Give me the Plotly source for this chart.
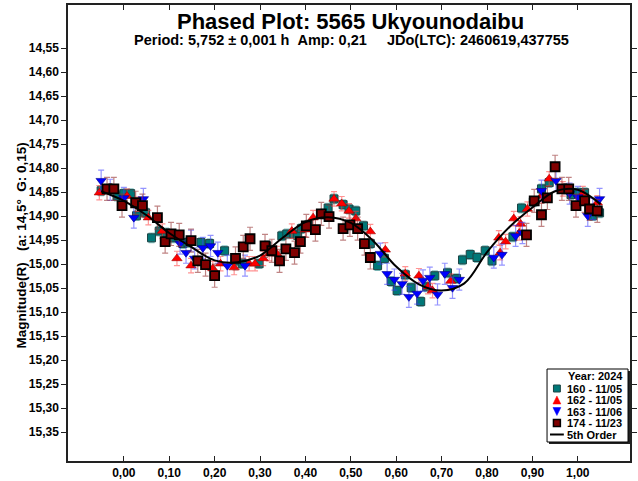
import plotly.graph_objects as go

# ---- data: phased magnitudes per session ----
phase_160 = [-0.050, -0.015, 0.000, 0.015, 0.028, 0.048, 0.061, 0.078, 0.093, 0.109,
             0.130, 0.141, 0.170, 0.189, 0.222, 0.246, 0.261, 0.298, 0.315, 0.348,
             0.359, 0.374, 0.383, 0.391, 0.407, 0.439, 0.450, 0.463, 0.483, 0.496,
             0.511, 0.528, 0.543, 0.559, 0.574, 0.589, 0.602, 0.620, 0.633, 0.654,
             0.667, 0.685, 0.713, 0.733, 0.746, 0.763, 0.778, 0.796, 0.811, 0.857,
             0.876, 0.902, 0.920, 0.937, 0.985, 1.000, 1.015, 1.033, 1.048]
mag_160 = [14.847, 14.858, 14.853, 14.853, 14.899, 14.893, 14.945, 14.931, 14.935, 14.945,
           14.957, 14.955, 14.955, 14.957, 14.972, 14.993, 14.999, 14.999, 14.962, 14.941,
           14.937, 14.937, 14.940, 14.926, 14.918, 14.895, 14.883, 14.864, 14.876, 14.885,
           14.889, 14.920, 14.957, 15.003, 14.988, 15.036, 15.055, 15.022, 15.049, 15.078,
           15.047, 15.024, 15.018, 15.030, 14.991, 14.980, 14.986, 14.972, 14.993, 14.943,
           14.883, 14.870, 14.843, 14.830, 14.855, 14.851, 14.851, 14.899, 14.893]

phase_162 = [-0.054, 0.007, 0.030, 0.054, 0.085, 0.117, 0.148, 0.196, 0.213, 0.243,
             0.276, 0.289, 0.307, 0.320, 0.337, 0.370, 0.400, 0.417, 0.463, 0.480,
             0.496, 0.511, 0.543, 0.576, 0.620, 0.650, 0.670, 0.680, 0.720, 0.826,
             0.829, 0.841, 0.859, 0.871, 0.874, 0.889, 0.920, 0.937, 0.967, 1.011,
             1.043]
mag_162 = [14.851, 14.858, 14.875, 14.903, 14.931, 14.988, 15.003, 15.009, 14.999, 15.007,
           14.999, 14.999, 14.988, 14.978, 14.978, 14.931, 14.928, 14.903, 14.864, 14.874,
           14.889, 14.905, 14.932, 14.970, 15.020, 15.024, 15.047, 15.055, 15.035, 14.945,
           14.976, 14.953, 14.905, 14.935, 14.916, 14.885, 14.858, 14.822, 14.843, 14.853,
           14.872]

phase_163 = [-0.050, -0.030, 0.000, 0.022, 0.043, 0.124, 0.137, 0.148, 0.156, 0.174,
             0.191, 0.207, 0.228, 0.267, 0.565, 0.580, 0.596, 0.613, 0.628, 0.646,
             0.659, 0.674, 0.691, 0.707, 0.724, 0.739, 0.815, 0.833, 0.863, 0.878,
             0.920, 0.952, 0.982, 1.000, 1.022, 1.033, 1.048]
mag_163 = [14.826, 14.845, 14.862, 14.903, 14.864, 14.957, 14.976, 14.951, 14.988, 14.966,
           14.962, 14.976, 15.003, 15.003, 14.978, 15.020, 15.032, 15.041, 15.068, 15.061,
           15.034, 15.028, 15.063, 15.020, 15.049, 15.032, 14.986, 14.980, 14.941, 14.935,
           14.847, 14.826, 14.853, 14.860, 14.899, 14.885, 14.864]

phase_174 = [-0.037, -0.022, -0.004, 0.026, 0.041, 0.074, 0.091, 0.104, 0.122, 0.148,
             0.163, 0.180, 0.200, 0.246, 0.263, 0.278, 0.311, 0.326, 0.343, 0.357,
             0.376, 0.389, 0.402, 0.422, 0.435, 0.452, 0.483, 0.498, 0.515, 0.530,
             0.543, 0.887, 0.904, 0.920, 0.933, 0.950, 0.965, 0.980, 0.996, 1.015,
             1.026, 1.043]
mag_174 = [14.843, 14.843, 14.878, 14.872, 14.878, 14.903, 14.953, 14.937, 14.939, 14.951,
           14.993, 15.001, 15.024, 14.988, 14.964, 14.947, 14.962, 14.972, 14.993, 14.968,
           14.976, 14.953, 14.920, 14.928, 14.895, 14.901, 14.926, 14.918, 14.926, 14.957,
           14.986, 14.939, 14.868, 14.897, 14.862, 14.797, 14.843, 14.843, 14.878, 14.868,
           14.885, 14.889]

# typical photometric uncertainty per session
err_160 = 0.010
err_162 = 0.015
err_163 = 0.022
err_174 = 0.024

# 5th order Fourier fit, sampled
fit_phase = [-0.05, 0.00, 0.05, 0.10, 0.15, 0.20, 0.25, 0.30, 0.35, 0.40, 0.45, 0.50,
             0.55, 0.60, 0.65, 0.70, 0.75, 0.80, 0.85, 0.90, 0.95, 1.00, 1.05]
fit_mag = [14.848, 14.868, 14.898, 14.935, 14.965, 14.992, 14.996, 14.982, 14.945, 14.912,
           14.902, 14.914, 14.952, 15.005, 15.042, 15.055, 15.040, 14.975, 14.922, 14.882,
           14.848, 14.845, 14.875]

x_ticks = [0.0, 0.1, 0.2, 0.3, 0.4, 0.5, 0.6, 0.7, 0.8, 0.9, 1.0]
y_ticks = [14.55, 14.60, 14.65, 14.70, 14.75, 14.80, 14.85, 14.90, 14.95, 15.00,
           15.05, 15.10, 15.15, 15.20, 15.25, 15.30, 15.35]

title_text = "Phased Plot: 5565 Ukyounodaibu"
subtitle_text = ("Period: 5,752 \u00b1 0,001 h\u00a0\u00a0Amp: 0,21"
                 "\u00a0\u00a0\u00a0\u00a0\u00a0JDo(LTC): 2460619,437755")
ytitle_text = "Magnitude(R)\u00a0\u00a0\u00a0(a: 14,5\u00b0\u00a0\u00a0G: 0,15)"
legend_title = "Year: 2024"
labels = ["160 - 11/05", "162 - 11/05", "163 - 11/06", "174 - 11/23", "5th Order"]

FONT = "Liberation Sans, Arial, sans-serif"
W, H = 638, 481
L, R, T, B = 68, 1, 5, 20
PW, PH = W - L - R, H - T - B


def px(xp):
    return (xp - L) / PW


def py(yp):
    return (T + PH - yp) / PH


styles = [
    (phase_160, mag_160, err_160, labels[0], "square", 8, "#007878", "#1c4444", 1.0,
     "rgba(40,150,150,0.55)"),
    (phase_162, mag_162, err_162, labels[1], "triangle-up", 9, "#ff0000", "#a00000", 0.6,
     "rgba(255,60,60,0.55)"),
    (phase_163, mag_163, err_163, labels[2], "triangle-down", 9, "#0000ff", "#00008a", 0.6,
     "rgba(60,60,255,0.55)"),
    (phase_174, mag_174, err_174, labels[3], "square", 9, "#800000", "#000000", 1.8,
     "rgba(150,50,50,0.6)"),
]

fig = go.Figure()
for xs, ys, err, name, sym, size, fill, edge, ew, ecol in styles:
    fig.add_trace(go.Scatter(
        x=xs, y=ys, mode="markers", name=name, showlegend=False,
        marker=dict(symbol=sym, size=size, color=fill, line=dict(color=edge, width=ew)),
        error_y=dict(type="constant", value=err, color=ecol, thickness=1.2, width=3),
    ))

fig.add_trace(go.Scatter(
    x=fit_phase, y=fit_mag, mode="lines", name=labels[4], showlegend=False,
    line=dict(color="black", width=2, shape="spline", smoothing=1.0),
))

axis_common = dict(
    showgrid=False, zeroline=False, showline=True, linecolor="#222222", linewidth=1.5,
    tickcolor="#222222", ticklen=5, tickformat=".2f",
    tickfont=dict(family=FONT, size=12, color="black", weight="bold"),
)

fig.update_xaxes(range=[-0.123, 1.115], tickvals=x_ticks, ticks="inside", mirror="allticks",
                 **axis_common)
fig.update_yaxes(range=[15.41, 14.46], tickvals=y_ticks, ticks="outside", mirror="ticks",
                 **axis_common)

annotations = [
    dict(text=title_text, x=px(354), y=py(21), xref="paper", yref="paper",
         showarrow=False, xanchor="center", yanchor="middle",
         font=dict(family=FONT, size=22, color="black", weight="bold")),
    dict(text=subtitle_text, x=px(355), y=py(40), xref="paper", yref="paper",
         showarrow=False, xanchor="center", yanchor="middle",
         font=dict(family=FONT, size=14.5, color="black", weight="bold")),
    dict(text=ytitle_text, x=px(21), y=py(246), xref="paper", yref="paper",
         showarrow=False, xanchor="center", yanchor="middle", textangle=-90,
         font=dict(family=FONT, size=13.5, color="black", weight="bold")),
]

# legend panel
lx0, lx1, ly0, ly1 = 553, 635, 369, 442
shapes = [
    dict(type="rect", xref="paper", yref="paper", x0=px(lx0 + 2), x1=px(lx1 + 2),
         y0=py(ly1 + 2), y1=py(ly0 + 2), fillcolor="#222222", line=dict(width=0),
         layer="above"),
    dict(type="rect", xref="paper", yref="paper", x0=px(lx0), x1=px(lx1),
         y0=py(ly1), y1=py(ly0), fillcolor="white", line=dict(color="black", width=1),
         layer="above"),
]
annotations.append(dict(text=legend_title, x=px(632), y=py(376), xref="paper", yref="paper",
                        showarrow=False, xanchor="right", yanchor="middle",
                        font=dict(family=FONT, size=11, color="black", weight="bold")))
rows = [388.5, 400, 411.5, 423, 434.5]
sx = 563
for i, yrow in enumerate(rows):
    annotations.append(dict(text=labels[i], x=px(571), y=py(yrow), xref="paper",
                            yref="paper", showarrow=False, xanchor="left", yanchor="middle",
                            font=dict(family=FONT, size=11, color="black", weight="bold")))


def sq(cx, cy, h, fill, edge, w):
    return dict(type="rect", xref="paper", yref="paper", x0=px(cx - h), x1=px(cx + h),
                y0=py(cy + h), y1=py(cy - h), fillcolor=fill,
                line=dict(color=edge, width=w), layer="above")


def tri(cx, cy, h, up, fill):
    if up:
        pts = [(cx - h, cy + h), (cx + h, cy + h), (cx, cy - h)]
    else:
        pts = [(cx - h, cy - h), (cx + h, cy - h), (cx, cy + h)]
    path = "M " + " L ".join(f"{px(a)},{py(b)}" for a, b in pts) + " Z"
    return dict(type="path", xref="paper", yref="paper", path=path, fillcolor=fill,
                line=dict(color=fill, width=0.5), layer="above")


shapes.append(sq(sx, rows[0], 3.5, "#007878", "#1c4444", 1))
shapes.append(tri(sx, rows[1], 4, True, "#ff0000"))
shapes.append(tri(sx, rows[2], 4, False, "#0000ff"))
shapes.append(sq(sx, rows[3], 3.5, "#800000", "#000000", 1.5))
shapes.append(dict(type="line", xref="paper", yref="paper", x0=px(556), x1=px(570),
                   y0=py(rows[4]), y1=py(rows[4]), line=dict(color="black", width=2),
                   layer="above"))

fig.update_layout(
    width=W, height=H, margin=dict(l=L, r=R, t=T, b=B),
    paper_bgcolor="white", plot_bgcolor="white",
    separators=",.", showlegend=False,
    annotations=annotations, shapes=shapes,
    font=dict(family=FONT, color="black"),
)

fig.write_html("out.html")
